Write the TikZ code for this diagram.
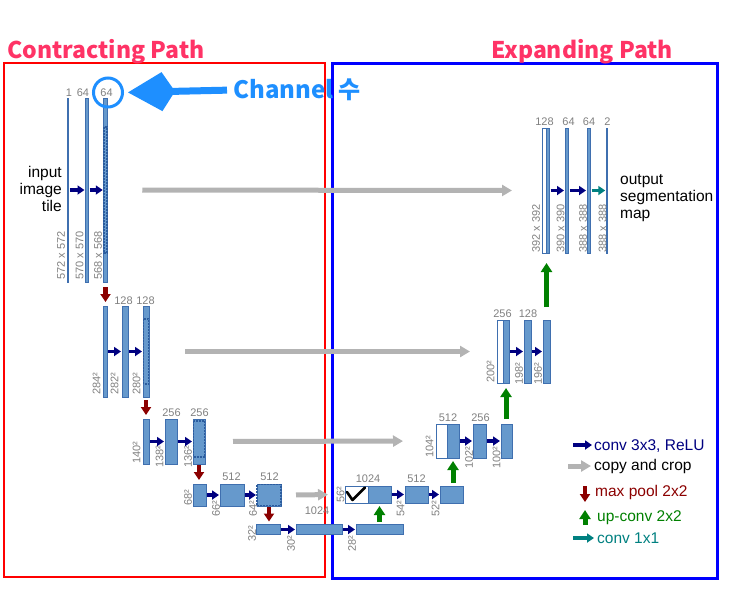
\documentclass[tikz,border=0pt]{standalone}
\usepackage{fontspec}
\setmainfont{Liberation Sans}
\newfontfamily\krfont{Noto Sans CJK KR}
\usetikzlibrary{arrows.meta}

\definecolor{barblue}{HTML}{6699CC}
\definecolor{baredge}{HTML}{3F6FAF}
\definecolor{cropblue}{HTML}{2B5C9E}
\definecolor{numgray}{HTML}{808080}
\definecolor{copygray}{HTML}{B3B3B3}
\definecolor{poolred}{HTML}{8B0000}
\definecolor{upgreen}{HTML}{008000}
\definecolor{convnavy}{HTML}{000080}
\definecolor{oneteal}{HTML}{008080}
\definecolor{titlepink}{HTML}{FF3366}
\definecolor{notblue}{HTML}{1E8FFF}

\begin{document}
\begin{tikzpicture}[x=1pt,y=-1pt,
  bar/.style={rectangle,draw=baredge,fill=barblue,line width=0.6pt,inner sep=0pt,outer sep=0pt},
  wbar/.style={bar,fill=white},
  crop/.style={draw=cropblue,line width=1.2pt,dash pattern=on 2pt off 1pt},
  num/.style={text=numgray,font=\fontsize{11}{11}\selectfont,inner sep=1pt,anchor=south},
  dim/.style={text=numgray,font=\fontsize{11}{11}\selectfont,inner sep=1pt,rotate=90,anchor=west},
  conv/.style={draw=convnavy,line width=3.5pt,-{Triangle[length=7pt,width=9pt]},shorten <=1pt,shorten >=1pt},
  copy/.style={draw=copygray,line width=5pt,-{Triangle[length=10pt,width=11pt]}},
  pool/.style={draw=poolred,line width=4.5pt,-{Triangle[length=8pt,width=10pt]},shorten <=3pt,shorten >=3pt},
  upconv/.style={draw=upgreen,line width=5pt,-{Triangle[length=9pt,width=11pt]},shorten <=3pt,shorten >=3pt},
  oneconv/.style={draw=oneteal,line width=3.5pt,-{Triangle[length=7pt,width=9pt]},shorten <=1pt,shorten >=1pt},
  txt/.style={font=\fontsize{15.5}{17}\selectfont,inner sep=0pt},
  title/.style={text=titlepink,font=\krfont\bfseries\fontsize{23}{23}\selectfont,inner sep=0pt},
]
\useasboundingbox (0,0) rectangle (738,590);

\draw[red,line width=2.5pt] (4,63) rectangle (325,577);
\draw[blue,line width=3pt] (332,63) rectangle (717,578);
\node[title] (ctit) at (106,52) {Contracting Path};
\node[title] (etit) at (582,52) {Expanding Path};

% contracting path
\node[bar,minimum width=1.5pt,minimum height=184pt] (c10) at (68,190) {};
\node[bar,minimum width=3pt,minimum height=184pt] (c11) at (87,190) {};
\node[bar,minimum width=3.5pt,minimum height=184pt] (c12) at (105.5,190) {};
\draw[crop] (104,127) rectangle (107,253);

\node[bar,minimum width=4pt,minimum height=91pt] (c20) at (105,351.5) {};
\node[bar,minimum width=6pt,minimum height=91pt] (c21) at (125,351.5) {};
\node[bar,minimum width=6pt,minimum height=91pt] (c22) at (146,351.5) {};
\draw[crop] (143.5,319) rectangle (148.5,384);

\node[bar,minimum width=6pt,minimum height=45pt] (c30) at (146,441.5) {};
\node[bar,minimum width=12pt,minimum height=45pt] (c31) at (171,441.5) {};
\node[bar,minimum width=12pt,minimum height=45pt] (c32) at (199,441.5) {};
\draw[crop] (193.5,421) rectangle (204.5,457);

\node[bar,minimum width=13pt,minimum height=22pt] (c40) at (199.5,495) {};
\node[bar,minimum width=24pt,minimum height=22pt] (c41) at (232,495) {};
\node[bar,minimum width=24pt,minimum height=22pt] (c42) at (269,495) {};
\draw[crop] (257,484.5) rectangle (281,505.5);

\node[bar,minimum width=24pt,minimum height=10pt] (b0) at (268,529.5) {};
\node[bar,minimum width=46pt,minimum height=10pt] (b1) at (319,529.5) {};
\node[bar,minimum width=47pt,minimum height=10pt] (b2) at (379.5,529.5) {};

% expanding path
\node[wbar,minimum width=23pt,minimum height=17pt] (e4w) at (356.5,494.5) {};
\node[bar,minimum width=23pt,minimum height=17pt] (e4b) at (379.5,494.5) {};
\node[bar,minimum width=23pt,minimum height=17pt] (e41) at (416.5,494.5) {};
\node[bar,minimum width=23pt,minimum height=17pt] (e42) at (451.5,494.5) {};
\draw[line width=2.6pt,line cap=round,line join=round] (347,492) -- (352.5,500) -- (365,487.5);

\node[wbar,minimum width=11pt,minimum height=34pt] (e3w) at (441.5,441) {};
\node[bar,minimum width=12pt,minimum height=34pt] (e3b) at (453,441) {};
\node[bar,minimum width=13pt,minimum height=34pt] (e31) at (479.5,441) {};
\node[bar,minimum width=11pt,minimum height=34pt] (e32) at (506.5,441) {};

\node[wbar,minimum width=6pt,minimum height=63pt] (e2w) at (500,351.5) {};
\node[bar,minimum width=6pt,minimum height=63pt] (e2b) at (506,351.5) {};
\node[bar,minimum width=7pt,minimum height=63pt] (e21) at (527.5,351.5) {};
\node[bar,minimum width=7pt,minimum height=63pt] (e22) at (546.5,351.5) {};

\node[wbar,minimum width=4pt,minimum height=125pt] (e1w) at (544,190.5) {};
\node[bar,minimum width=3.5pt,minimum height=125pt] (e1b) at (547.75,190.5) {};
\node[bar,minimum width=3.5pt,minimum height=125pt] (e11) at (566.75,190.5) {};
\node[bar,minimum width=3.5pt,minimum height=125pt] (e12) at (588.75,190.5) {};
\node[bar,minimum width=1.5pt,minimum height=125pt] (e13) at (607,190.5) {};

% channel numbers
\node[num] (n10) at (69,98) {1};
\node[num] (n11) at (83,98) {64};
\node[num] (n12) at (106.5,98) {64};
\node[num] (n21) at (123.5,306) {128};
\node[num] (n22) at (145.5,306) {128};
\node[num] (n31) at (171.5,418) {256};
\node[num] (n32) at (199.5,418) {256};
\node[num] (n41) at (231.5,482) {512};
\node[num] (n42) at (269.5,482) {512};
\node[num] (n51) at (317,516) {1024};
\node[num] (m41) at (368,484) {1024};
\node[num] (m42) at (416.5,484) {512};
\node[num] (m31) at (448,423) {512};
\node[num] (m32) at (480.5,423) {256};
\node[num] (m21) at (502.5,319) {256};
\node[num] (m22) at (528,319) {128};
\node[num] (m11) at (544.5,127) {128};
\node[num] (m12) at (568.5,127) {64};
\node[num] (m13) at (589,127) {64};
\node[num] (m14) at (607.5,127) {2};

% sizes
\node[dim] (s10) at (61,281) {572 x 572};
\node[dim] (s11) at (79.5,281) {570 x 570};
\node[dim] (s12) at (98,281) {568 x 568};
\node[dim] (s20) at (96.5,396) {284²};
\node[dim] (s21) at (114.5,396) {282²};
\node[dim] (s22) at (136.5,396) {280²};
\node[dim] (s30) at (136.5,465) {140²};
\node[dim] (s31) at (159.5,469) {138²};
\node[dim] (s32) at (188,469) {136²};
\node[dim] (s40) at (188,507) {68²};
\node[dim] (s41) at (216,518) {66²};
\node[dim] (s42) at (253,518) {64²};
\node[dim] (s50) at (252,543) {32²};
\node[dim] (s51) at (291,553) {30²};
\node[dim] (s52) at (352,553) {28²};
\node[dim] (t40) at (340.5,504) {56²};
\node[dim] (t41) at (400.5,518) {54²};
\node[dim] (t42) at (435.5,518) {52²};
\node[dim] (t30) at (429.5,459) {104²};
\node[dim] (t31) at (469,470) {102²};
\node[dim] (t32) at (496.5,470) {100²};
\node[dim] (t20) at (490.5,384) {200²};
\node[dim] (t21) at (519,386) {198²};
\node[dim] (t22) at (538,386) {196²};
\node[dim] (t10) at (536,254) {392 x 392};
\node[dim] (t11) at (560.5,254) {390 x 390};
\node[dim] (t12) at (583,254) {388 x 388};
\node[dim] (t13) at (602.5,254) {388 x 388};

\node[txt,align=right,anchor=north east] (inp) at (62,166) {input\\image\\tile};
\node[txt,align=left,anchor=north west] (outp) at (620,174) {output\\segmentation\\map};

% arrows
\draw[conv] (c10) -- (c11);
\draw[conv] (c11) -- (c12);
\draw[conv] (c20) -- (c21);
\draw[conv] (c21) -- (c22);
\draw[conv] (c30) -- (c31);
\draw[conv] (c31) -- (c32);
\draw[conv] (c40) -- (c41);
\draw[conv] (c41) -- (c42);
\draw[conv] (b0) -- (b1);
\draw[conv] (b1) -- (b2);
\draw[conv] (e4b) -- (e41);
\draw[conv] (e41) -- (e42);
\draw[conv] (e3b) -- (e31);
\draw[conv] (e31) -- (e32);
\draw[conv] (e2b) -- (e21);
\draw[conv] (e21) -- (e22);
\draw[conv] (e1b) -- (e11);
\draw[conv] (e11) -- (e12);
\draw[oneconv] (e12) -- (e13);

\draw[copy,shorten <=35pt,shorten >=30pt] (c12) -- (e1w);
\draw[copy,shorten <=36pt,shorten >=27pt] (c22) -- (e2w);
\draw[copy,shorten <=28pt,shorten >=33pt] (c32) -- (e3w);
\draw[copy,shorten <=15pt,shorten >=17pt] (c42) -- (e4w);

\draw[pool,shorten <=5pt,shorten >=4pt] (c12.south) -- (c12.south |- c20.north);
\draw[pool,shorten >=4pt] (c22.south) -- (c22.south |- c30.north);
\draw[pool,shorten <=1pt,shorten >=4pt] (c32.south) -- (c32.south |- c40.north);
\draw[pool,shorten <=1pt] (c42.south) -- (c42.south |- b0.north);

\draw[upconv] (b2.north) -- (b2.north |- e4b.south);
\draw[upconv] (e3b.south |- e42.north) -- (e3b.south);
\draw[upconv,shorten <=5pt,shorten >=5pt] (e2b.south |- e32.north) -- (e2b.south);
\draw[upconv,shorten <=13pt,shorten >=10pt] (e22.north) -- (e22.north |- e1b.south);

% channel note
\node[draw=notblue,circle,line width=3pt,minimum size=29pt,inner sep=0pt] (ring) at (108,92.5) {};
\node[text=notblue,font=\krfont\bfseries\fontsize{24}{24}\selectfont,inner sep=0pt,anchor=west] (chan) at (233,90) {Channel 수};
\draw[notblue,line width=7pt,-{Kite[length=47pt,width=39pt,inset=13pt]},shorten <=6pt,shorten >=4pt] (chan.west) -- (ring.east);

% legend
\node[txt,text=convnavy,anchor=base west] (lg1) at (594,450) {conv 3x3, ReLU};
\node[txt,anchor=base west] (lg2) at (594,470) {copy and crop};
\node[txt,text=poolred,anchor=base west] (lg3) at (595,496) {max pool 2x2};
\node[txt,text=upgreen,anchor=base west] (lg4) at (597,521) {up-conv 2x2};
\node[txt,text=oneteal,anchor=base west] (lg5) at (597,543) {conv 1x1};
\coordinate (la1) at (573,445);
\coordinate (la2) at (568,466);
\coordinate (la3) at (585,486);
\coordinate (la4) at (585,525);
\coordinate (la5) at (573,538);
\draw[conv,shorten <=0pt,shorten >=2pt] (la1) -- (la1 -| lg1.west);
\draw[copy,shorten >=3pt] (la2) -- (la2 -| lg2.west);
\draw[pool,shorten <=0pt,shorten >=0pt] (la3) -- ++(0,16);
\draw[upconv,shorten <=0pt,shorten >=0pt] (la4) -- ++(0,-15);
\draw[oneconv,shorten <=0pt,shorten >=3pt] (la5) -- (la5 -| lg5.west);
\end{tikzpicture}
\end{document}
